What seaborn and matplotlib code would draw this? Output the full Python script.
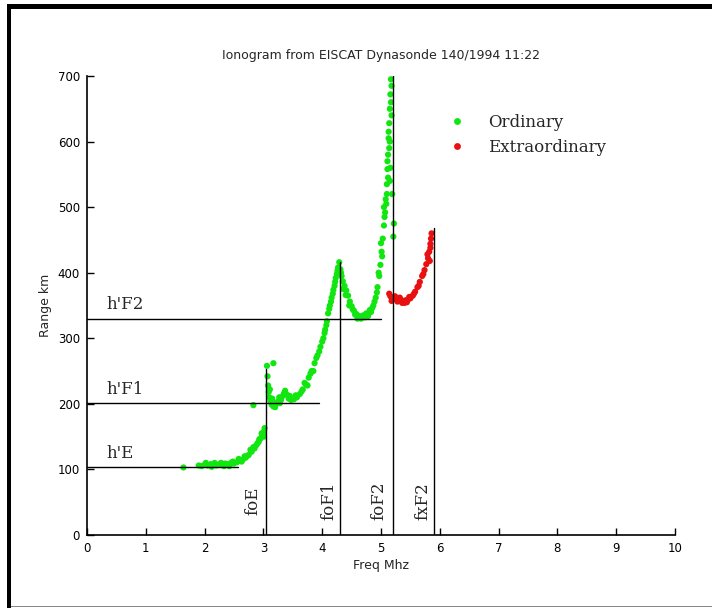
import matplotlib
matplotlib.use("Agg")
import matplotlib.pyplot as plt
import seaborn as sns
import pandas as pd
from matplotlib.patches import Rectangle
from matplotlib.font_manager import FontProperties

# ---- data ----
ord_freq = [1.64, 1.90, 1.95, 2.00, 2.05, 2.10, 2.15, 2.20, 2.25, 2.30, 2.35, 2.40, 2.45, 2.50,
            2.55, 2.60, 2.65, 2.70, 2.75, 2.80, 2.85, 2.88, 2.92, 2.95, 2.98, 3.00, 3.02, 2.83,
            2.02, 2.12, 2.28, 2.42, 2.58, 2.68, 2.78, 2.90, 2.97, 2.17, 2.33, 2.48, 2.63, 2.73,
            2.83, 2.93, 3.01,
            3.06, 3.17, 3.07, 3.08, 3.09, 3.10, 3.12, 3.14, 3.17, 3.20, 3.22, 3.25, 3.28, 3.30,
            3.33, 3.37, 3.40, 3.43, 3.47, 3.52, 3.57, 3.62, 3.67, 3.72, 3.77, 3.82, 3.87, 3.92,
            3.97, 4.02, 4.05, 4.08, 4.10, 4.13, 4.16, 4.19, 4.22, 4.25, 4.27, 4.29,
            3.75, 3.85, 3.95, 4.04, 4.12, 4.18, 4.23, 3.15, 3.35, 3.11, 3.19, 3.27, 3.45, 3.55,
            3.65, 3.70, 3.80, 3.90, 4.00, 4.07, 4.15, 4.21, 4.26,
            4.31, 4.33, 4.35, 4.38, 4.41, 4.44, 4.47, 4.50, 4.54, 4.58, 4.63, 4.68, 4.73, 4.78,
            4.83, 4.87, 4.91, 4.94, 4.97, 4.99, 5.01, 5.03, 5.05, 5.07, 5.08, 5.10, 5.11, 5.12,
            5.13, 5.14, 5.15, 5.16, 5.17,
            4.36, 4.46, 4.60, 4.75, 4.89, 4.96, 5.00, 5.05, 5.10, 5.12, 5.15, 5.18, 5.16, 5.22,
            5.21, 5.14, 5.19, 4.32, 4.40, 4.52, 4.56, 4.66, 4.70, 4.81, 4.85, 4.93, 5.02, 5.06,
            5.09, 5.11, 5.13, 5.17, 5.18, 5.15]
ord_range = [103, 106, 105, 107, 106, 108, 107, 106, 108, 107, 109, 108, 110, 109,
             111, 113, 115, 118, 122, 127, 132, 137, 142, 147, 152, 157, 163, 198,
             110, 104, 110, 105, 116, 120, 130, 140, 155, 110, 105, 112, 112, 121,
             134, 146, 150,
             258, 262, 242, 228, 218, 210, 204, 199, 196, 195, 200, 204, 201, 206,
             212, 220, 214, 208, 206, 207, 210, 215, 222, 230, 240, 250, 262, 274,
             287, 300, 313, 326, 338, 350, 362, 374, 386, 398, 408, 416,
             228, 250, 280, 308, 345, 368, 392, 208, 216, 222, 201, 210, 212, 213,
             219, 232, 246, 270, 295, 320, 356, 380, 403,
             405, 395, 387, 380, 373, 365, 356, 349, 342, 337, 334, 332, 332, 334,
             340, 350, 362, 378, 395, 412, 432, 452, 472, 492, 512, 535, 558, 580,
             605, 628, 650, 672, 695,
             375, 350, 330, 338, 356, 400, 445, 500, 520, 545, 600, 640, 560, 475,
             455, 590, 520, 400, 366, 344, 336, 330, 335, 343, 346, 370, 425, 485,
             505, 570, 615, 660, 685, 540]
ext_freq = [5.14, 5.16, 5.19, 5.22, 5.26, 5.30, 5.34, 5.38, 5.42, 5.46, 5.50, 5.54, 5.58,
            5.62, 5.66, 5.70, 5.74, 5.77, 5.80, 5.82, 5.84, 5.85, 5.86, 5.83, 5.28, 5.40,
            5.18, 5.24, 5.32, 5.36, 5.44, 5.48, 5.56, 5.64, 5.72, 5.79, 5.84]
ext_range = [368, 364, 362, 360, 361, 359, 358, 357, 358, 359, 361, 365, 371,
             378, 386, 395, 404, 413, 422, 432, 444, 452, 460, 418, 356, 354,
             357, 364, 362, 354, 355, 363, 368, 380, 398, 428, 438]

h_labels = ["h'E", "h'F1", "h'F2"]
h_values = [103, 201, 330]
h_ends = [2.56, 3.94, 5.00]
f_labels = ["foE", "foF1", "foF2", "fxF2"]
f_values = [3.05, 4.30, 5.20, 5.90]
f_tops = [253, 417, 701, 468]

x_ticks = list(range(0, 11))
y_ticks = list(range(0, 701, 100))

df = pd.DataFrame({
    "freq": ord_freq + ext_freq,
    "range": ord_range + ext_range,
    "mode": ["Ordinary"] * len(ord_freq) + ["Extraordinary"] * len(ext_freq),
})

sns.set_theme(style="ticks")
plt.rcParams["font.family"] = ["DejaVu Sans"]

fig = plt.figure(figsize=(7.12, 6.08), dpi=100)
ax = fig.add_axes([87 / 712, 1 - 535 / 608, 588 / 712, 459 / 608])

sns.scatterplot(data=df, x="freq", y="range", hue="mode",
                palette={"Ordinary": "#11e611", "Extraordinary": "#e81010"},
                s=20, linewidth=0, marker="o", ax=ax, legend=True)

serif = FontProperties(family="DejaVu Serif", size=12)

for lab, v, e in zip(h_labels, h_values, h_ends):
    ax.plot([0, e], [v, v], color="black", lw=1)
    ax.text(0.33, v + 8, lab, fontproperties=serif, ha="left", va="bottom")

lab_x = [2.83, 4.11, 4.96, 5.71]
for lab, v, t, lx in zip(f_labels, f_values, f_tops, lab_x):
    ax.plot([v, v], [0, t], color="black", lw=1)
    ax.text(lx, 52, lab, fontproperties=serif, rotation=90, ha="center", va="center")

ax.set_xlim(0, 10)
ax.set_ylim(0, 700)
ax.set_xticks(x_ticks)
ax.set_yticks(y_ticks)
ax.tick_params(direction="in", length=5, width=1, labelsize=8.5, colors="black", pad=5)
sns.despine(ax=ax)
for sp in ["left", "bottom"]:
    ax.spines[sp].set_color("black")
    ax.spines[sp].set_linewidth(1.2)

ax.set_xlabel("Freq Mhz", fontsize=9, labelpad=3)
ax.set_ylabel("Range km", fontsize=9, labelpad=4)
ax.set_title("Ionogram from EISCAT Dynasonde 140/1994 11:22", fontsize=9, pad=12)

leg = ax.legend(loc="upper left", bbox_to_anchor=(0.575, 0.95), frameon=False,
                prop=serif, handletextpad=0.9, labelspacing=0.5, markerscale=1.1,
                title=None)

# figure border
fig.add_artist(Rectangle((7 / 712, 1 - 9 / 608), 1 - 7 / 712, 5 / 608,
                         transform=fig.transFigure, color="black", lw=0))
fig.add_artist(Rectangle((7 / 712, 0), 4 / 712, 1 - 4 / 608,
                         transform=fig.transFigure, color="black", lw=0))
fig.add_artist(Rectangle((11 / 712, 1 / 608), 1, 1.5 / 608,
                         transform=fig.transFigure, color="#888888", lw=0))

fig.savefig("out.png", dpi=100)
